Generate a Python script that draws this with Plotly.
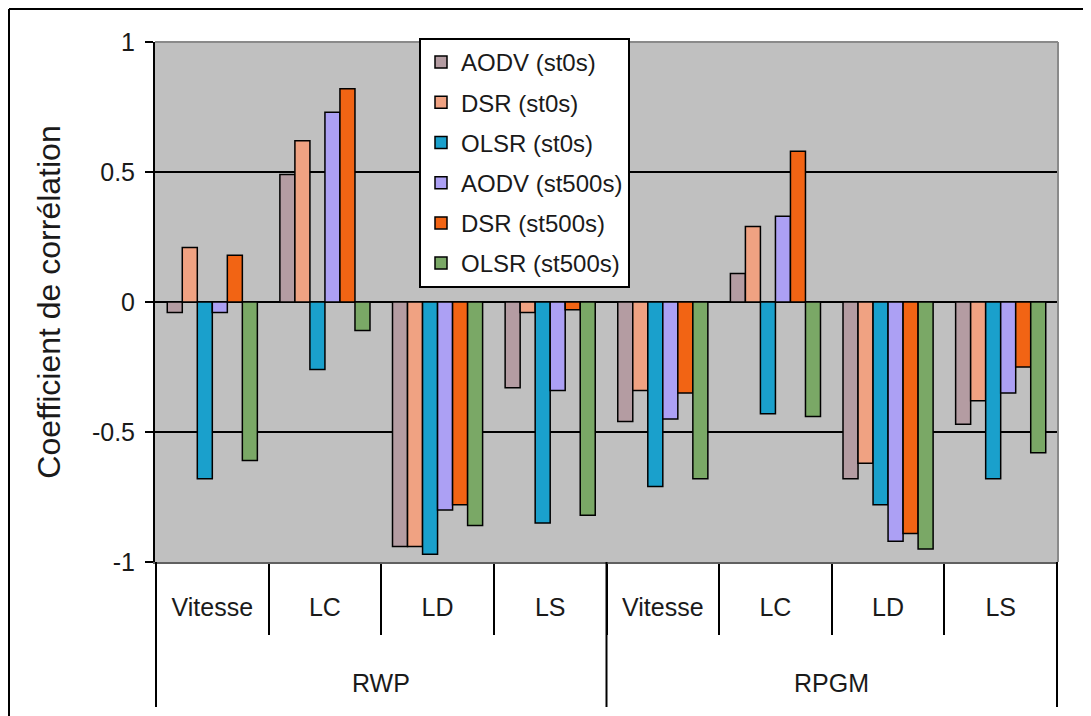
import plotly.graph_objects as go

groups = ["RWP", "RPGM"]
metrics = ["Vitesse", "LC", "LD", "LS"]
outer = [g for g in groups for _ in metrics]
inner = [m for _ in groups for m in metrics]
cat_ids = [f"{o} {i}" for o, i in zip(outer, inner)]

series_names = ["AODV (st0s)", "DSR (st0s)", "OLSR (st0s)",
                "AODV (st500s)", "DSR (st500s)", "OLSR (st500s)"]
aodv_st0 = [-0.04, 0.49, -0.94, -0.33, -0.46, 0.11, -0.68, -0.47]
dsr_st0 = [0.21, 0.62, -0.94, -0.04, -0.34, 0.29, -0.62, -0.38]
olsr_st0 = [-0.68, -0.26, -0.97, -0.85, -0.71, -0.43, -0.78, -0.68]
aodv_st500 = [-0.04, 0.73, -0.80, -0.34, -0.45, 0.33, -0.92, -0.35]
dsr_st500 = [0.18, 0.82, -0.78, -0.03, -0.35, 0.58, -0.89, -0.25]
olsr_st500 = [-0.61, -0.11, -0.86, -0.82, -0.68, -0.44, -0.95, -0.58]
series_values = [aodv_st0, dsr_st0, olsr_st0, aodv_st500, dsr_st500, olsr_st500]
colors = ["#b49ca2", "#f0a282", "#1aa0cc", "#aca0f4", "#f26414", "#7aa866"]

y_ticks = [-1, -0.5, 0, 0.5, 1]
y_ticktext = ["-1", "-0.5", "0", "0.5", "1"]

FONT = "Liberation Sans, Arial, sans-serif"
TXT = "#1a1a1a"
OFF = 8  # page body margin
W, H = 1091 - OFF, 716 - OFF
L, R, T, B = 155 - OFF, 33, 42 - OFF, 154
PW, PH = W - L - R, H - T - B

fig = go.Figure()
for name, vals, col in zip(series_names, series_values, colors):
    fig.add_trace(go.Bar(
        name=name, x=cat_ids, y=vals,
        marker=dict(color=col, line=dict(color="black", width=1.5)),
        legendgroup=name,
    ))


def px_x(p):
    return (p - OFF - L) / PW


def px_y(p):
    return (H - B - (p - OFF)) / PH


n_per = len(metrics)
shapes = [
    dict(type="line", xref="paper", yref="paper", x0=px_x(9), x1=px_x(1100),
         y0=px_y(9), y1=px_y(9), line=dict(color="black", width=2)),
    dict(type="line", xref="paper", yref="paper", x0=px_x(9), x1=px_x(9),
         y0=px_y(9), y1=px_y(730), line=dict(color="black", width=2)),
    dict(type="line", xref="paper", yref="paper", x0=0, x1=1, y0=1, y1=1,
         line=dict(color="#8a8a8a", width=2)),
    dict(type="line", xref="paper", yref="paper", x0=1, x1=1, y0=0, y1=1,
         line=dict(color="#8a8a8a", width=2)),
]
# group dividers (RWP | RPGM)
for k in range(len(groups) + 1):
    xb = k * n_per - 0.5
    shapes.append(dict(type="line", xref="x", yref="paper", x0=xb, x1=xb,
                       y0=0, y1=px_y(707), line=dict(color="black", width=2)))

annotations = []
for k, g in enumerate(groups):
    annotations.append(dict(
        text=g, xref="x", yref="paper", x=k * n_per + (n_per - 1) / 2, y=px_y(683),
        showarrow=False, xanchor="center", yanchor="middle",
        font=dict(family=FONT, size=25, color=TXT),
    ))

fig.update_layout(
    width=W, height=H,
    margin=dict(l=L, r=R, t=T, b=B, autoexpand=False),
    paper_bgcolor="white",
    plot_bgcolor="#c0c0c0",
    font=dict(family=FONT, size=22, color=TXT),
    barmode="group",
    bargap=0.2,
    bargroupgap=0,
    showlegend=True,
    legend=dict(
        x=px_x(419), y=px_y(38), xanchor="left", yanchor="top",
        bgcolor="white", bordercolor="black", borderwidth=2,
        font=dict(family=FONT, size=24, color=TXT),
        tracegroupgap=6, traceorder="grouped",
    ),
    shapes=shapes,
    annotations=annotations,
    xaxis=dict(
        type="category",
        tickvals=cat_ids, ticktext=inner,
        showline=True, linecolor="#606060", linewidth=2,
        ticks="outside", tickson="boundaries", ticklen=71, tickwidth=2, tickcolor="black",
        tickfont=dict(family=FONT, size=25, color=TXT),
        ticklabelstandoff=22,
        showgrid=False,
    ),
    yaxis=dict(
        range=[-1, 1], tickvals=y_ticks, ticktext=y_ticktext,
        showline=True, linecolor="black", linewidth=2,
        ticks="outside", ticklen=8, tickwidth=2, tickcolor="black",
        ticklabelstandoff=5,
        showgrid=True, gridcolor="black", gridwidth=2,
        zeroline=True, zerolinecolor="black", zerolinewidth=2,
        tickfont=dict(family=FONT, size=25, color=TXT),
        title=dict(text="Coefficient de corrélation",
                   font=dict(family=FONT, size=32, color=TXT), standoff=22),
    ),
)

fig.write_html("out.html")
